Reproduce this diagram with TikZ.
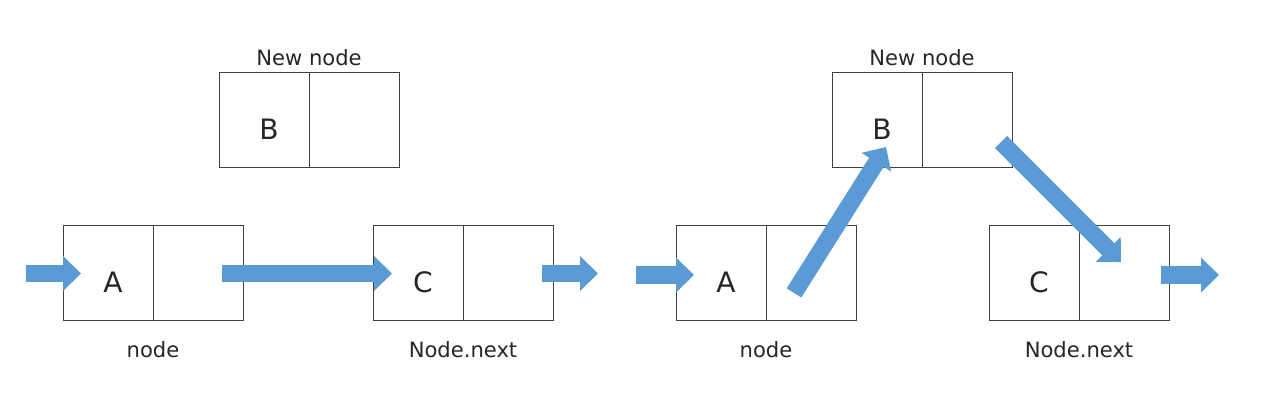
\documentclass[tikz,border=0pt]{standalone}
\usepackage{fontspec}
\setmainfont{DejaVu Sans}
\usetikzlibrary{positioning,arrows.meta}
\definecolor{ptrblue}{HTML}{5B9BD5}

\begin{document}
\begin{tikzpicture}[
    cell/.style={rectangle, draw=black!75, line width=0.7pt, minimum width=2.25cm, minimum height=2.375cm, outer sep=0pt, inner sep=0pt, text height=1cm, text depth=0pt, text=black!85, font=\fontsize{20}{22}\selectfont},
    data/.style={cell, execute at begin node=\hspace*{0.25cm}},
    caption/.style={inner sep=0pt, text=black!85, font=\fontsize{15}{18}\selectfont},
    ptr/.style={ptrblue, line width=0.43cm, -{Triangle[width=0.85cm,length=0.45cm]}}
]
    \useasboundingbox (0,0) rectangle (31.525,10.125);

    % Vorher
    \node[data] (lA) at (2.7,3.3125) {A};
    \node[cell, right=0pt of lA] (lAn) {};
    \node[data] (lC) at (10.45,3.3125) {C};
    \node[cell, right=0pt of lC] (lCn) {};
    \node[data] (lB) at (6.6,7.125) {B};
    \node[cell, right=0pt of lB] (lBn) {};

    \node[caption, above=0.15cm of lB.north east] (lBcap) {New node};
    \node[caption, below=0.525cm of lA.south east] (lAcap) {node};
    \node[caption, below=0.525cm of lC.south east] (lCcap) {Node.next};

    \coordinate (lIn) at (0.65,3.2875);
    \coordinate (lOut) at (14.95,3.2875);

    % Nachher
    \node[data] (rA) at (18.025,3.3125) {A};
    \node[cell, right=0pt of rA] (rAn) {};
    \node[data] (rC) at (25.85,3.3125) {C};
    \node[cell, right=0pt of rC] (rCn) {};
    \node[data] (rB) at (21.925,7.125) {B};
    \node[cell, right=0pt of rB] (rBn) {};

    \node[caption, above=0.15cm of rB.north east] (rBcap) {New node};
    \node[caption, below=0.525cm of rA.south east] (rAcap) {node};
    \node[caption, below=0.525cm of rC.south east] (rCcap) {Node.next};

    \coordinate (rIn) at (15.9,3.25);
    \coordinate (rOut) at (30.475,3.25);

    % Zeiger
    \draw[ptr] (lIn) -- ([xshift=0.45cm]lA.west |- lIn);
    \draw[ptr] ([xshift=-0.525cm]lAn.east |- lIn) -- ([xshift=0.475cm]lC.west |- lIn);
    \draw[ptr] ([xshift=-0.275cm]lCn.east |- lOut) -- (lOut);

    \draw[ptr] (rIn) -- ([xshift=0.45cm]rA.west |- rIn);
    \draw[ptr] ([shift={(-0.425,-0.51)}]rAn.center) -- ([shift={(0.225,-0.675)}]rB.center);
    \draw[ptr] ([shift={(0.85,-0.55)}]rBn.center) -- ([shift={(-0.075,0.26)}]rCn.center);
    \draw[ptr] ([xshift=-0.2cm]rCn.east |- rOut) -- (rOut);
\end{tikzpicture}
\end{document}
